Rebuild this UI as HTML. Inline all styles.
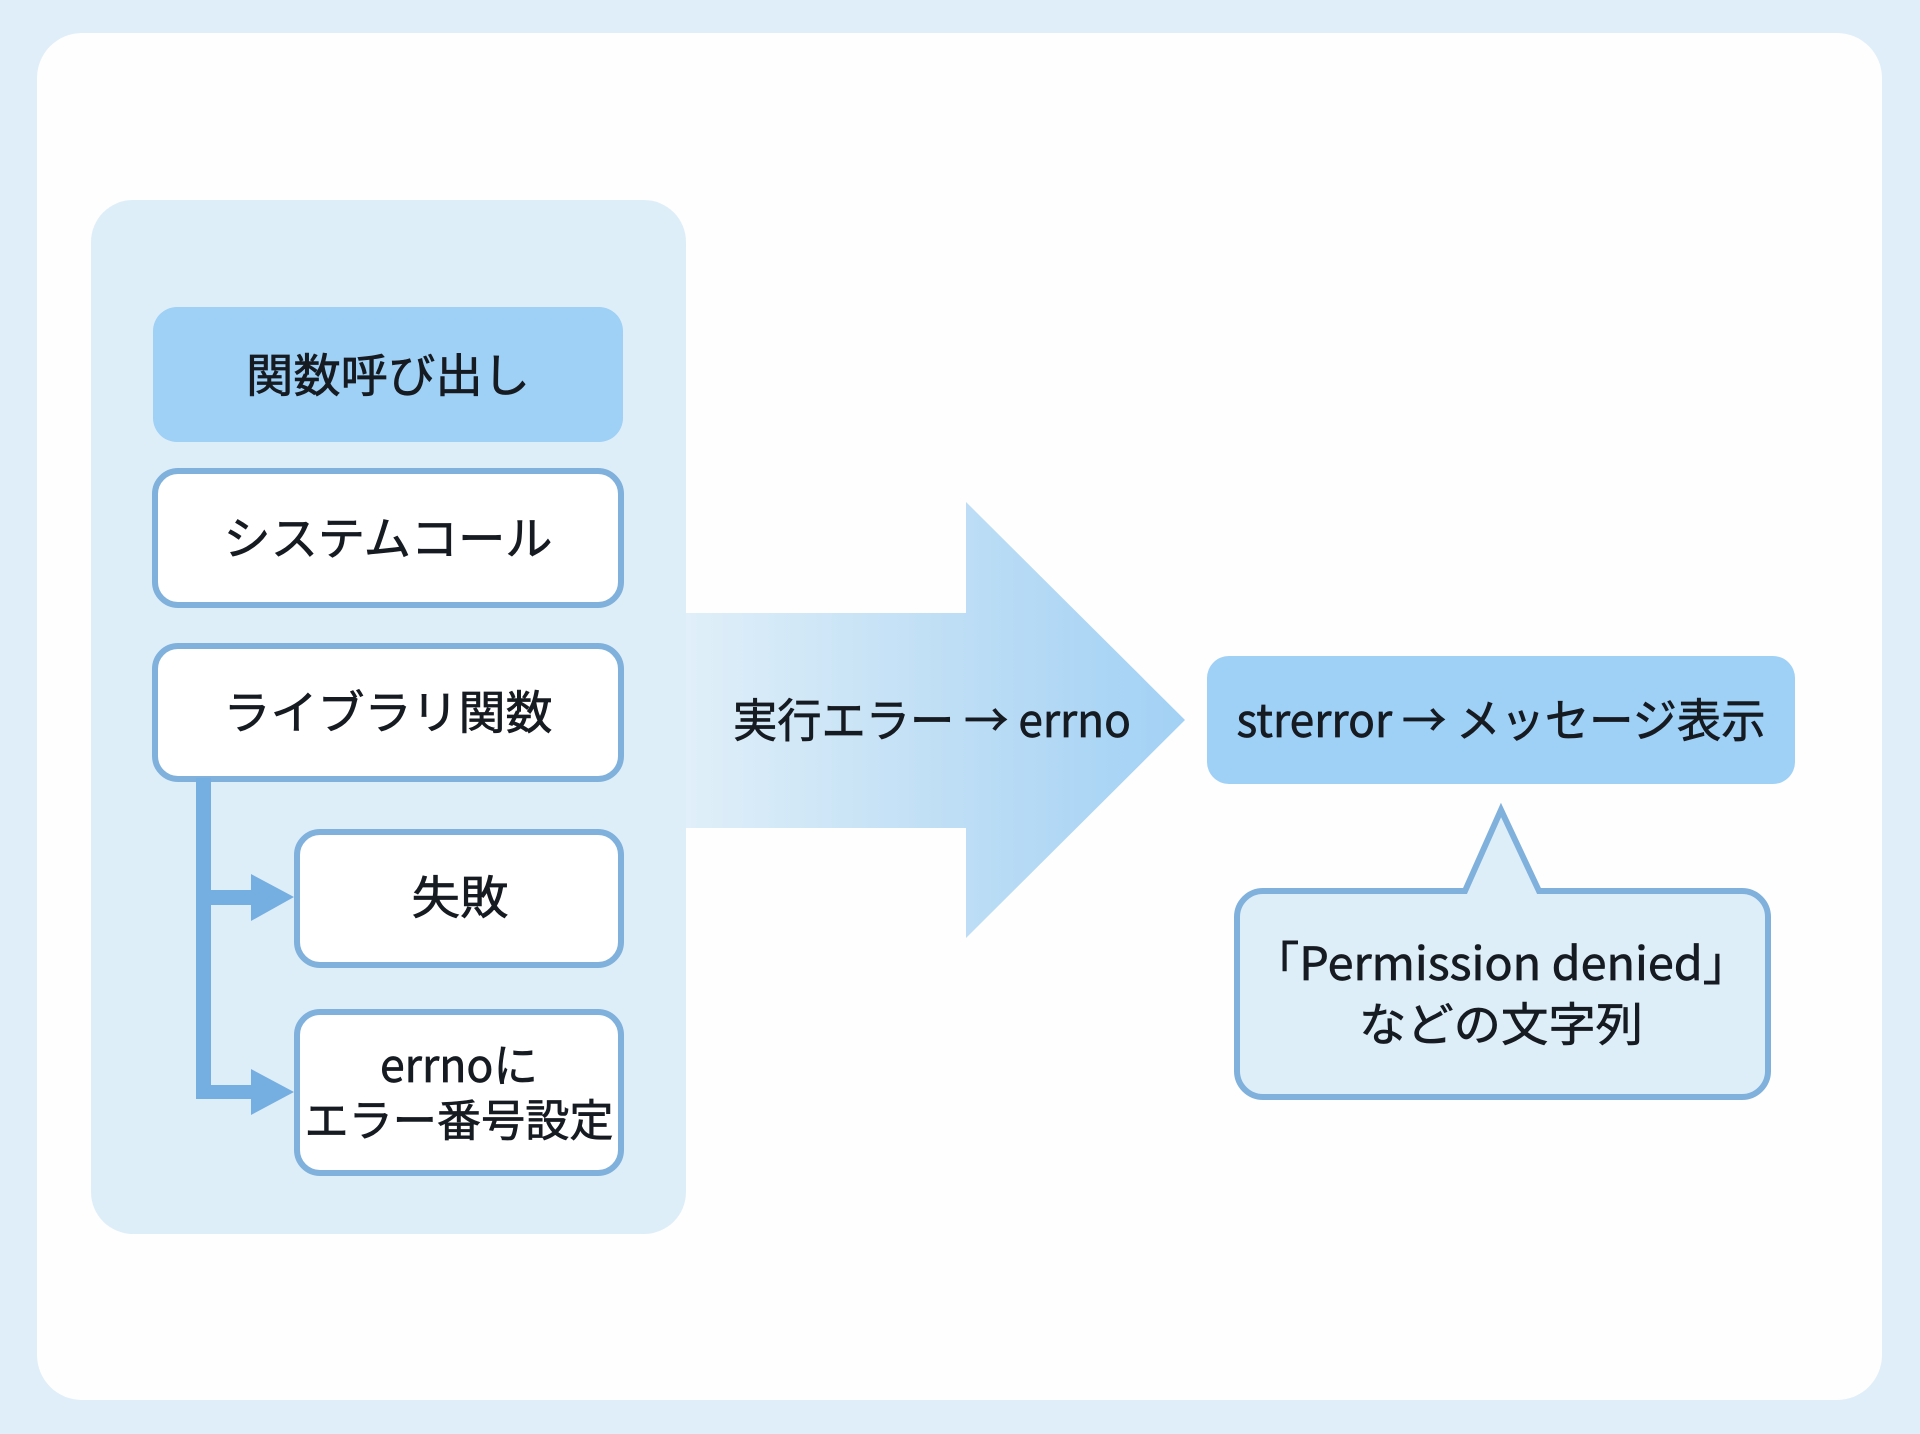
<!DOCTYPE html>
<html lang="ja">
<head>
<meta charset="utf-8">
<title>errno diagram</title>
<style>
html,body{margin:0;padding:0;background:#dfeef8;}
svg{display:block;}
text{font-family:"Noto Sans CJK JP","Liberation Sans",sans-serif;fill:#161b22;stroke:#161b22;stroke-width:0.7px;font-size:46px;text-anchor:middle;}
</style>
</head>
<body>
<svg width="1920" height="1434" viewBox="0 0 1920 1434" xmlns="http://www.w3.org/2000/svg">
<defs>
<linearGradient id="g" gradientUnits="userSpaceOnUse" x1="686" y1="0" x2="1185" y2="0">
<stop offset="0" stop-color="#e0eff9"/>
<stop offset="0.5" stop-color="#c0dff5"/>
<stop offset="1" stop-color="#a2d1f5"/>
</linearGradient>
</defs>
<rect width="1920" height="1434" fill="#dfeef8"/>
<rect x="37" y="33" width="1845" height="1367" rx="45" fill="#fefefe"/>
<polygon points="680,613 966,613 966,502 1185,720 966,938 966,828 680,828" fill="url(#g)"/>
<rect x="91" y="200" width="595" height="1034" rx="42" fill="#deeef9"/>

<rect x="153" y="307" width="470" height="135" rx="24" fill="#9fd0f6"/>
<text x="388" y="392" textLength="284" lengthAdjust="spacingAndGlyphs">関数呼び出し</text>

<rect x="155" y="471" width="466" height="134" rx="23" fill="#fff" stroke="#7fb1dc" stroke-width="6"/>
<text x="388" y="555" textLength="329" lengthAdjust="spacingAndGlyphs">システムコール</text>

<rect x="155" y="646" width="466" height="133" rx="23" fill="#fff" stroke="#7fb1dc" stroke-width="6"/>
<text x="388" y="729" textLength="329" lengthAdjust="spacingAndGlyphs">ライブラリ関数</text>

<path d="M196 778H211V890H251V874L294 897L251 921V905H211V1085H251V1069L294 1092L251 1115V1099H196Z" fill="#75afe2"/>

<rect x="297" y="832" width="324" height="133" rx="23" fill="#fff" stroke="#7fb1dc" stroke-width="6"/>
<text x="460" y="914" textLength="97" lengthAdjust="spacingAndGlyphs">失敗</text>

<rect x="297" y="1012" width="324" height="161" rx="23" fill="#fff" stroke="#7fb1dc" stroke-width="6"/>
<text x="459" y="1082" textLength="158" lengthAdjust="spacingAndGlyphs">errnoに</text>
<text x="459" y="1136" style="font-size:44px" textLength="309" lengthAdjust="spacingAndGlyphs">エラー番号設定</text>

<text x="932" y="737" textLength="398" lengthAdjust="spacingAndGlyphs">実行エラー → errno</text>

<rect x="1207" y="656" width="588" height="128" rx="22" fill="#9fd0f6"/>
<text x="1501" y="737" textLength="529" lengthAdjust="spacingAndGlyphs">strerror → メッセージ表示</text>

<path d="M1263 891H1465L1501 810L1539 891H1742A26 26 0 0 1 1768 917V1071A26 26 0 0 1 1742 1097H1263A26 26 0 0 1 1237 1071V917A26 26 0 0 1 1263 891Z" fill="#deeef9" stroke="#7fb1dc" stroke-width="6" stroke-linejoin="miter"/>
<text x="1501" y="980" textLength="497" lengthAdjust="spacingAndGlyphs">「Permission denied」</text>
<text x="1501" y="1041" textLength="284" lengthAdjust="spacingAndGlyphs">などの文字列</text>
</svg>
</body>
</html>
